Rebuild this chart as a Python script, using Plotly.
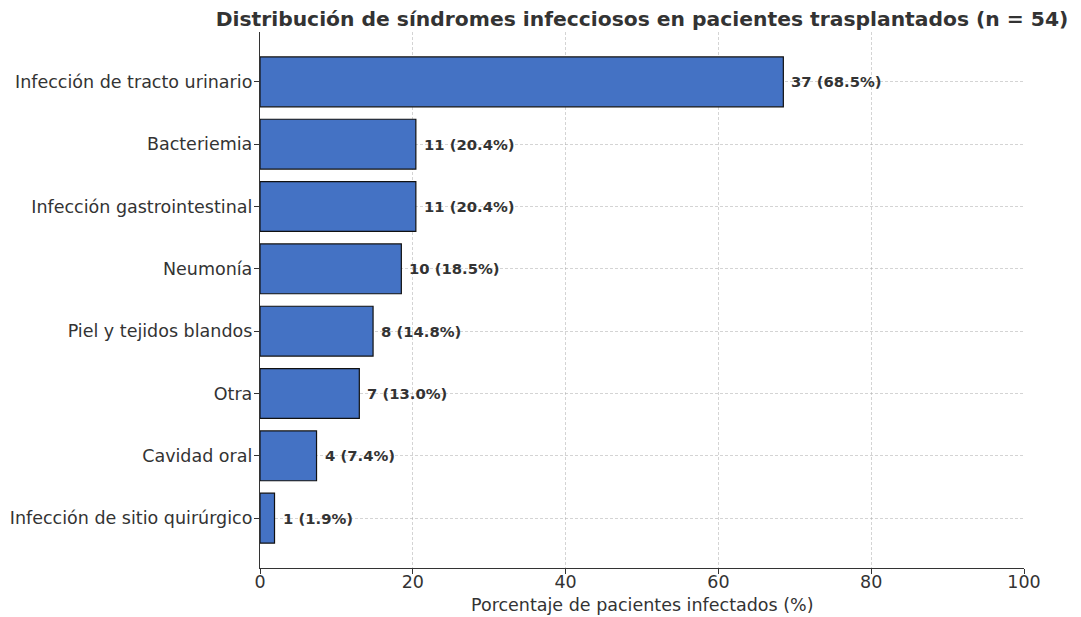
import plotly.graph_objects as go

categories = [
    "Infección de tracto urinario",
    "Bacteriemia",
    "Infección gastrointestinal",
    "Neumonía",
    "Piel y tejidos blandos",
    "Otra",
    "Cavidad oral",
    "Infección de sitio quirúrgico",
]
counts = [37, 11, 11, 10, 8, 7, 4, 1]
percents = [68.5, 20.4, 20.4, 18.5, 14.8, 13.0, 7.4, 1.9]
labels = [f"{c} ({p:.1f}%)" for c, p in zip(counts, percents)]

font_family = "DejaVu Sans"
text_color = "#333333"

fig = go.Figure()
fig.add_trace(go.Bar(
    x=percents,
    y=categories,
    orientation="h",
    width=0.8,
    marker=dict(color="#4472C4", line=dict(color="#111111", width=1.2)),
    hoverinfo="x+y",
))

for cat, p, lab in zip(categories, percents, labels):
    fig.add_annotation(
        x=p + 0.8, y=cat, text=f"<b>{lab}</b>", showarrow=False,
        xanchor="left", yanchor="middle",
        font=dict(family=font_family, size=14.8, color=text_color),
    )

fig.add_annotation(
    x=0.5, y=0, xref="paper", yref="paper", yshift=-37,
    text="Porcentaje de pacientes infectados (%)", showarrow=False,
    xanchor="center", yanchor="middle",
    font=dict(family=font_family, size=17.5, color=text_color),
)

grid_color = "rgba(170,170,170,0.5)"
fig.update_layout(
    width=1073, height=609,
    margin=dict(l=252, r=57, t=24, b=49),
    paper_bgcolor="white", plot_bgcolor="white",
    showlegend=False,
    font=dict(family=font_family, color=text_color),
    title=dict(
        text="<b>Distribución de síndromes infecciosos en pacientes trasplantados (n = 54)</b>",
        x=0.5, xref="paper", xanchor="center",
        y=1, yref="paper", yanchor="bottom", pad=dict(b=6),
        font=dict(family=font_family, size=20.3, color=text_color),
    ),
    xaxis=dict(
        range=[0, 100], tickvals=[0, 20, 40, 60, 80, 100],
        showgrid=True, gridcolor=grid_color, griddash="3px,2px", gridwidth=1,
        showline=True, linecolor="#333333", linewidth=1.3,
        ticks="outside", ticklen=5, tickcolor="#333333",
        tickfont=dict(family=font_family, size=17.5, color=text_color),
        ticklabelstandoff=-7,
        zeroline=False, layer="above traces", automargin=False,
    ),
    yaxis=dict(
        type="category",
        categoryorder="array", categoryarray=categories,
        range=[7.8, -0.8],
        showgrid=True, gridcolor=grid_color, griddash="3px,2px", gridwidth=1,
        showline=True, linecolor="#333333", linewidth=1.3,
        ticks="outside", ticklen=5, tickcolor="#333333",
        tickfont=dict(family=font_family, size=17.5, color=text_color),
        ticklabelstandoff=-2,
        layer="above traces", automargin=False,
    ),
)

fig.write_html("out.html")
